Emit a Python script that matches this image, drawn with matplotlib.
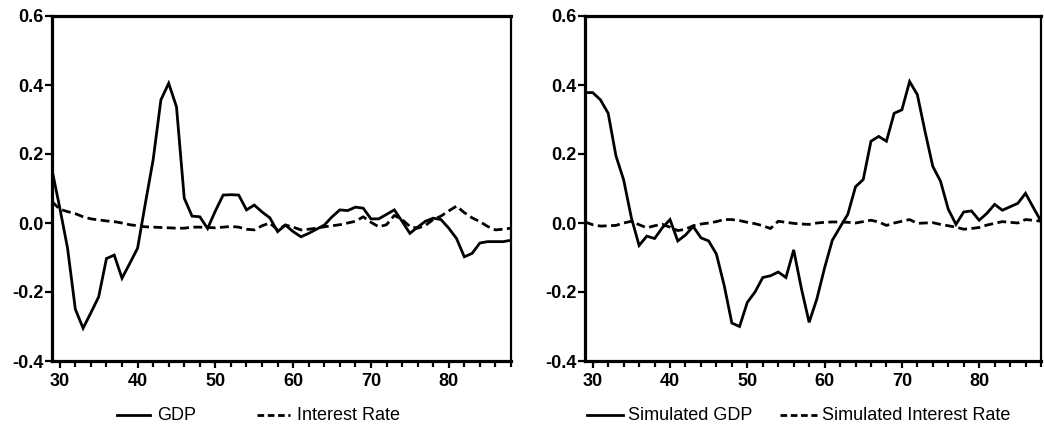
import matplotlib
matplotlib.use("Agg")
import matplotlib.pyplot as plt
from matplotlib.lines import Line2D
import numpy as np

years = list(range(29, 89))

gdp = [0.154, 0.044, -0.073, -0.25, -0.305, -0.26, -0.214, -0.103, -0.093, -0.16,
       -0.117, -0.073, 0.057, 0.183, 0.357, 0.405, 0.337, 0.072, 0.02, 0.018,
       -0.016, 0.035, 0.081, 0.082, 0.081, 0.038, 0.052, 0.032, 0.015, -0.025,
       -0.006, -0.025, -0.04, -0.03, -0.018, -0.006, 0.018, 0.038, 0.036, 0.046,
       0.043, 0.012, 0.012, 0.025, 0.038, 0.005, -0.03, -0.012, 0.005, 0.014,
       0.01, -0.015, -0.045, -0.098, -0.088, -0.058, -0.054, -0.054, -0.054, -0.05]

interest = [0.062, 0.04, 0.033, 0.027, 0.018, 0.012, 0.009, 0.006, 0.004, 0.0,
            -0.005, -0.008, -0.011, -0.012, -0.013, -0.014, -0.015, -0.015, -0.012, -0.012,
            -0.013, -0.014, -0.012, -0.01, -0.012, -0.018, -0.02, -0.008, 0.0, -0.02,
            -0.006, -0.012, -0.02, -0.018, -0.015, -0.011, -0.008, -0.005, 0.0, 0.005,
            0.018, 0.002, -0.011, -0.005, 0.022, 0.01, -0.01, -0.015, -0.007, 0.01,
            0.02, 0.035, 0.049, 0.03, 0.015, 0.004, -0.01, -0.02, -0.018, -0.015]

sim_gdp = [0.378, 0.378, 0.357, 0.318, 0.195, 0.125, 0.015, -0.065, -0.038, -0.045,
           -0.014, 0.01, -0.052, -0.035, -0.01, -0.043, -0.052, -0.09, -0.18, -0.29,
           -0.30, -0.23, -0.20, -0.158, -0.153, -0.142, -0.158, -0.078, -0.19, -0.288,
           -0.22, -0.13, -0.05, -0.012, 0.025, 0.105, 0.126, 0.237, 0.251, 0.237,
           0.318, 0.328, 0.41, 0.372, 0.265, 0.164, 0.121, 0.04, -0.004, 0.032,
           0.035, 0.008, 0.028, 0.054, 0.037, 0.047, 0.057, 0.086, 0.045, 0.005]

sim_interest = [0.003, -0.005, -0.009, -0.008, -0.007, 0.0, 0.005, -0.005, -0.014, -0.008,
                -0.004, -0.012, -0.022, -0.018, -0.008, -0.003, 0.0, 0.004, 0.01, 0.01,
                0.007, 0.002, -0.002, -0.008, -0.016, 0.005, 0.002, -0.001, -0.003, -0.004,
                0.0, 0.002, 0.003, 0.003, 0.002, 0.0, 0.004, 0.008, 0.003, -0.007,
                0.0, 0.005, 0.01, -0.001, 0.0, 0.001, -0.004, -0.008, -0.012, -0.018,
                -0.016, -0.013, -0.006, -0.001, 0.004, 0.002, 0.0, 0.01, 0.008, 0.005]

panels = [
    (gdp, interest, "GDP", "Interest Rate"),
    (sim_gdp, sim_interest, "Simulated GDP", "Simulated Interest Rate"),
]

yticks = [-0.4, -0.2, 0.0, 0.2, 0.4, 0.6]
xticks = [30, 40, 50, 60, 70, 80]

plt.rcParams['font.family'] = ['Liberation Sans', 'DejaVu Sans']

W, H = 1044, 437
fig = plt.figure(figsize=(W / 100, H / 100), dpi=100)

axes_px = [(52, 511), (585, 1041)]
top_px, bot_px = 16, 361
dash = (3.2, 1.6)
lw = 2.0

# legend layout in pixels: (solid start, solid end, text1 x, dashed start, dashed end, text2 x)
legend_px = [(117, 150, 157, 257, 290, 297), (587, 623, 628, 780, 817, 822)]
legend_y = 415

def fx(px):
    return px / W

def fy(py):
    return (H - py) / H

for (solid, dashed, lab1, lab2), (x0, x1), lp in zip(panels, axes_px, legend_px):
    ax = fig.add_axes([fx(x0), fy(bot_px), (x1 - x0) / W, (bot_px - top_px) / H])
    ax.plot(years, solid, color='black', lw=lw, solid_joinstyle='miter')
    ax.plot(years, dashed, color='black', lw=lw, linestyle=(0, dash))
    ax.set_xlim(29, 88)
    ax.set_ylim(-0.4, 0.6)
    ax.set_yticks(yticks)
    ax.set_yticklabels([f"{t:.1f}" for t in yticks])
    ax.set_xticks(xticks)
    ax.set_xticks(list(range(30, 89, 2)), minor=True)
    ax.tick_params(axis='both', which='both', direction='out', width=1.6, color='black',
                   labelsize=13)
    ax.tick_params(axis='x', which='major', length=5, pad=4)
    ax.tick_params(axis='x', which='minor', length=4)
    ax.tick_params(axis='y', which='major', length=5, pad=1)
    for s in ['left', 'bottom', 'top']:
        ax.spines[s].set_linewidth(2.3)
    ax.spines['right'].set_linewidth(1.6)
    for lab in ax.get_xticklabels() + ax.get_yticklabels():
        lab.set_fontweight('bold')

    s0, s1, t1, d0, d1, t2 = lp
    fig.add_artist(Line2D([fx(s0), fx(s1)], [fy(legend_y), fy(legend_y)],
                          color='black', lw=2.0, transform=fig.transFigure))
    fig.add_artist(Line2D([fx(d0), fx(d1)], [fy(legend_y), fy(legend_y)],
                          color='black', lw=2.0, linestyle=(0, (2.4, 1.3)),
                          transform=fig.transFigure))
    fig.text(fx(t1), fy(legend_y), lab1, ha='left', va='center', fontsize=13)
    fig.text(fx(t2), fy(legend_y), lab2, ha='left', va='center', fontsize=13)

fig.savefig("out.png", dpi=100)
